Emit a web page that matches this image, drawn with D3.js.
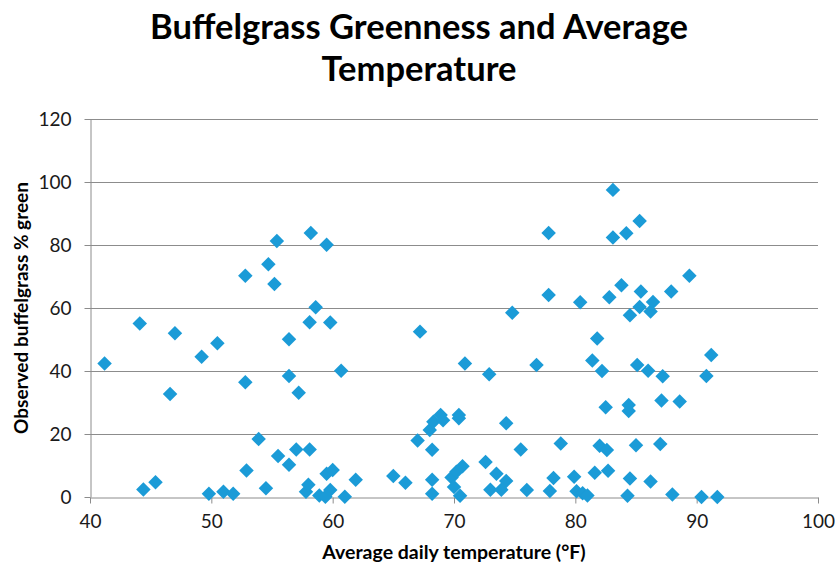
<!DOCTYPE html>
<html>
<head>
<meta charset="utf-8">
<script src="https://cdn.jsdelivr.net/npm/d3@7"></script>
<style>
  body { margin: 0; background: #fff; }
  svg { display: block; font-family: Lato, "Open Sans", sans-serif; }
</style>
</head>
<body>
<div id="chart"></div>
<script>
// chart text
var titleLines = ['Buffelgrass Greenness and Average', 'Temperature'];
var xTitle = 'Average daily temperature (\u00B0F)';
var yTitle = 'Observed buffelgrass % green';

// tick values
var xTicks = [40, 50, 60, 70, 80, 90, 100];
var yTicks = [0, 20, 40, 60, 80, 100, 120];

var temps = [
  41.2, 44.1, 44.4, 45.4, 46.6, 47.0, 49.2, 49.8, 50.5, 51.0,
  51.8, 52.8, 52.8, 52.9, 53.9, 54.5, 54.7, 55.2, 55.4, 55.5,
  56.4, 56.4, 56.4, 57.0, 57.2, 57.8, 58.0, 58.1, 58.1, 58.2,
  58.6, 58.9, 59.4, 59.5, 59.5, 59.8, 59.8, 60.0, 60.7, 61.0,
  61.9, 65.0, 66.0, 67.0, 67.2, 68.0, 68.2, 68.2, 68.2, 68.3,
  68.9, 69.1, 69.8, 70.0, 70.2, 70.4, 70.4, 70.5, 70.7, 70.9,
  72.6, 72.9, 73.0, 73.5, 73.9, 74.3, 74.3, 74.8, 75.5, 76.0,
  76.8, 77.8, 77.8, 77.9, 78.2, 78.8, 79.9, 80.1, 80.4, 80.6,
  81.0, 81.4, 81.6, 81.8, 82.0, 82.2, 82.5, 82.6, 82.7, 82.8,
  83.1, 83.1, 83.8, 84.2, 84.3, 84.4, 84.4, 84.5, 84.5, 85.0,
  85.1, 85.3, 85.3, 85.4, 86.0, 86.2, 86.2, 86.4, 87.0, 87.1,
  87.2, 87.9, 88.0, 88.6, 89.4, 90.4, 90.8, 91.2, 91.7
];
var greens = [
  42.4, 55.1, 2.4, 4.7, 32.7, 52.0, 44.5, 1.0, 48.8, 1.7,
  1.0, 70.2, 36.4, 8.4, 18.4, 2.8, 73.9, 67.6, 81.3, 13.0,
  50.1, 38.4, 10.2, 15.1, 33.1, 1.7, 3.9, 15.1, 55.5, 83.8,
  60.2, 0.5, 0.1, 80.1, 7.4, 2.2, 55.4, 8.6, 40.1, 0.1,
  5.5, 6.7, 4.5, 17.9, 52.5, 21.3, 15.0, 5.5, 1.0, 23.9,
  26.0, 24.4, 6.2, 3.2, 8.0, 26.0, 25.0, 0.4, 9.8, 42.4,
  11.1, 39.0, 2.3, 7.4, 2.3, 23.4, 5.1, 58.5, 15.1, 2.2,
  41.9, 83.8, 64.1, 1.9, 6.0, 17.0, 6.4, 1.8, 61.8, 1.2,
  0.5, 43.3, 7.7, 50.3, 16.3, 40.0, 28.5, 14.9, 8.3, 63.4,
  97.5, 82.4, 67.2, 83.7, 0.4, 29.2, 27.3, 5.9, 57.7, 16.4,
  41.9, 87.6, 60.3, 65.2, 40.1, 58.9, 4.9, 61.9, 16.8, 30.6,
  38.3, 65.2, 0.8, 30.3, 70.2, 0.0, 38.4, 45.1, 0.0
];

var width = 835, height = 568;
var plot = { left: 90, right: 818, top: 119, bottom: 497 };

var svg = d3.select('#chart').append('svg')
    .attr('width', width)
    .attr('height', height);

var x = d3.scaleLinear().domain([40, 100]).range([plot.left, plot.right]);
var y = d3.scaleLinear().domain([0, 120]).range([plot.bottom, plot.top]);

/* gridlines */
svg.append('g')
    .selectAll('line')
    .data(yTicks.slice(1))
    .enter()
    .append('line')
    .attr('x1', plot.left).attr('x2', plot.right)
    .attr('y1', function (d) { return y(d) + 0.5; })
    .attr('y2', function (d) { return y(d) + 0.5; })
    .attr('stroke', '#8c8c8c')
    .attr('stroke-width', 1);

/* axes */
var xAxis = svg.append('g')
    .attr('transform', 'translate(0,' + (plot.bottom + 0.5) + ')')
    .call(d3.axisBottom(x).tickValues(xTicks).tickSizeInner(6).tickSizeOuter(0).tickPadding(11));

var yAxis = svg.append('g')
    .attr('transform', 'translate(' + (plot.left + 0.5) + ',0)')
    .call(d3.axisLeft(y).tickValues(yTicks).tickSizeInner(6).tickSizeOuter(0).tickPadding(13));

[xAxis, yAxis].forEach(function (ax) {
    ax.select('.domain').attr('stroke', '#8c8c8c');
    ax.selectAll('.tick line').attr('stroke', '#8c8c8c');
    ax.selectAll('.tick text')
        .attr('fill', '#1a1a1a')
        .style('font-size', '19px')
        .style('font-family', 'Lato, sans-serif');
});

/* points */
var points = temps.map(function (t, i) { return { t: t, g: greens[i] }; });

svg.append('g')
    .selectAll('path')
    .data(points)
    .enter()
    .append('path')
    .attr('d', d3.symbol().type(d3.symbolSquare).size(105))
    .attr('transform', function (d) {
        return 'translate(' + x(d.t) + ',' + y(d.g) + ') rotate(45)';
    })
    .attr('fill', '#1b9bd7');

/* titles */
svg.append('g')
    .selectAll('text')
    .data(titleLines)
    .enter()
    .append('text')
    .attr('x', 419)
    .attr('y', function (d, i) { return 39 + i * 42; })
    .attr('text-anchor', 'middle')
    .style('font-size', '34.5px')
    .style('font-weight', 'bold')
    .attr('fill', '#000')
    .text(function (d) { return d; });

svg.append('text')
    .attr('x', (plot.left + plot.right) / 2)
    .attr('y', 559)
    .attr('text-anchor', 'middle')
    .style('font-size', '19.5px')
    .style('font-weight', 'bold')
    .text(xTitle);

svg.append('text')
    .attr('transform', 'translate(28,' + ((plot.top + plot.bottom) / 2) + ') rotate(-90)')
    .attr('text-anchor', 'middle')
    .style('font-size', '19px')
    .style('font-weight', 'bold')
    .text(yTitle);
</script>
</body>
</html>
